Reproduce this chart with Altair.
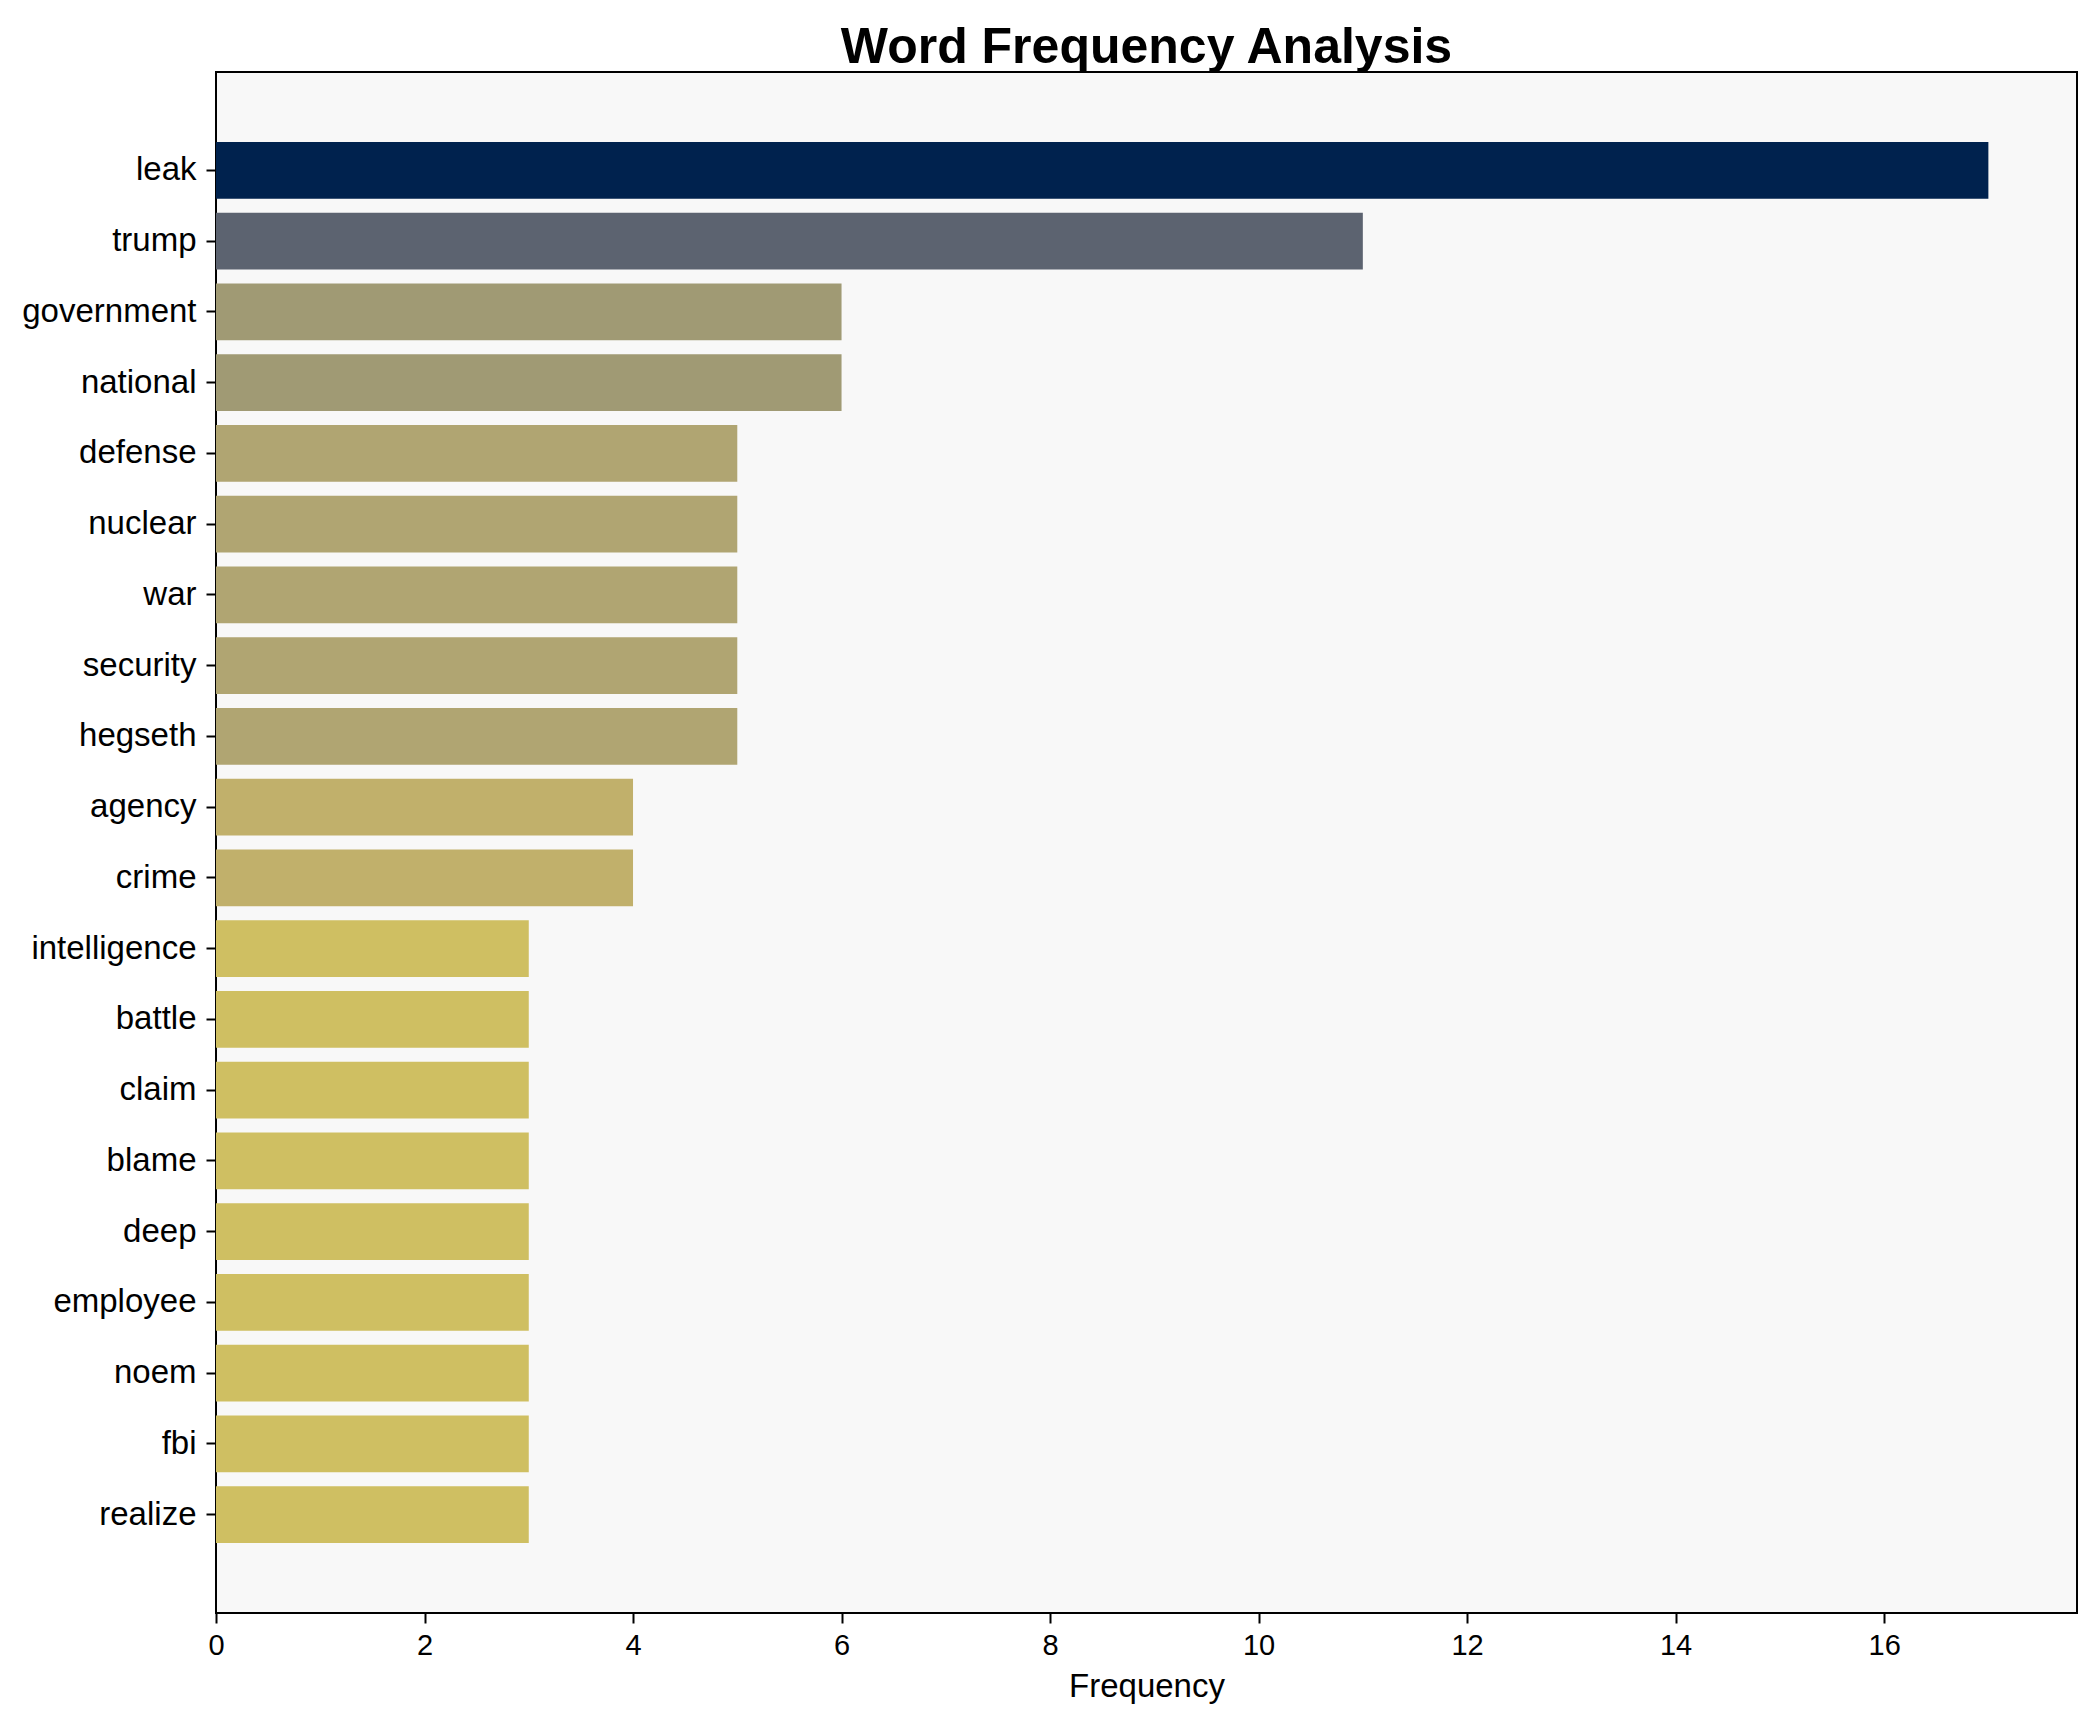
import altair as alt
import pandas as pd

words = ["leak", "trump", "government", "national", "defense", "nuclear", "war",
         "security", "hegseth", "agency", "crime", "intelligence", "battle", "claim",
         "blame", "deep", "employee", "noem", "fbi", "realize"]
freqs = [17, 11, 6, 6, 5, 5, 5, 5, 5, 4, 4, 3, 3, 3, 3, 3, 3, 3, 3, 3]
colors = ["#00224e", "#5c6370", "#a09a74", "#a09a74", "#b0a572", "#b0a572", "#b0a572",
          "#b0a572", "#b0a572", "#c1b06b", "#c1b06b", "#cfbf62", "#cfbf62", "#cfbf62",
          "#cfbf62", "#cfbf62", "#cfbf62", "#cfbf62", "#cfbf62", "#cfbf62"]

df = pd.DataFrame({"word": words, "freq": freqs, "color": colors})

FONT = "Liberation Sans"

chart = (
    alt.Chart(df)
    .mark_bar()
    .encode(
        y=alt.Y(
            "word:N",
            sort=words,
            scale=alt.Scale(paddingInner=0.2, paddingOuter=0.99),
            axis=alt.Axis(
                title=None,
                labelFont=FONT,
                labelFontSize=33,
                labelColor="black",
                labelPadding=10,
                tickSize=10,
                tickWidth=2,
                tickColor="black",
                domain=False,
                grid=False,
            ),
        ),
        x=alt.X(
            "freq:Q",
            scale=alt.Scale(domain=[0, 17.85], nice=False, zero=True),
            axis=alt.Axis(
                title="Frequency",
                titleFont=FONT,
                titleFontSize=33,
                titleFontWeight="normal",
                titleColor="black",
                titlePadding=10,
                values=[0, 2, 4, 6, 8, 10, 12, 14, 16],
                labelFont=FONT,
                labelFontSize=29,
                labelColor="black",
                labelPadding=8,
                labelFlush=False,
                tickSize=10,
                tickWidth=2,
                tickColor="black",
                domain=False,
                grid=False,
            ),
        ),
        color=alt.Color("color:N", scale=None, legend=None),
    )
    .properties(
        width=1861,
        height=1541,
        autosize=alt.AutoSizeParams(type="none"),
        padding={"left": 208, "top": 64, "right": 10, "bottom": 102},
        title=alt.TitleParams(
            text="Word Frequency Analysis",
            font=FONT,
            fontSize=50,
            fontWeight="bold",
            color="black",
            anchor="middle",
            frame="group",
            baseline="alphabetic",
            offset=-41,
        ),
    )
    .configure(background="white")
    .configure_view(fill="#f8f8f8", stroke="black", strokeWidth=2)
)

chart.save("out.html", embed_options={"renderer": "svg", "actions": False})
